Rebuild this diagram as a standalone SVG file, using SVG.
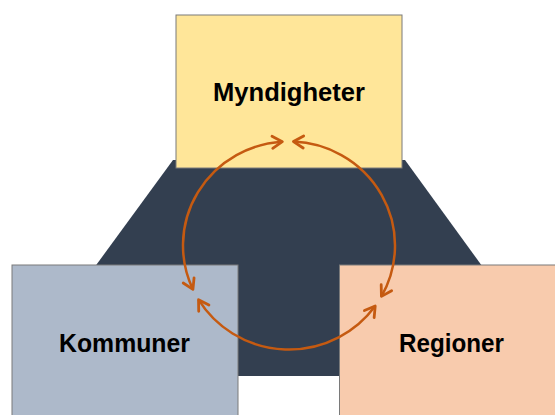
<svg xmlns="http://www.w3.org/2000/svg" width="555" height="415" viewBox="0 0 555 415">
  <style>
    .box { stroke: #7a7a7a; stroke-width: 1; }
    .lbl { font-family: "Liberation Sans", Arial, sans-serif; font-weight: bold; font-size: 25px; fill: #000; text-anchor: middle; }
    .arc { fill: none; stroke: #C55A11; stroke-width: 2.5; }
  </style>
  <defs>
    <marker id="ah" markerUnits="userSpaceOnUse" markerWidth="16" markerHeight="16" refX="0" refY="0" viewBox="-12 -8 14 16" orient="auto-start-reverse" overflow="visible">
      <path d="M-10,-6 L0,0 L-10,6" fill="none" stroke="#C55A11" stroke-width="2.8" stroke-linejoin="round" stroke-linecap="round"/>
    </marker>
  </defs>
  <rect width="555" height="415" fill="#ffffff"/>
  <g id="background">
    <polygon points="173,160 405,160 562,376 15,376" fill="#333F50"/>
  </g>
  <g id="myndigheter">
    <rect class="box" x="176" y="15" width="226" height="153" fill="#FFE699"/>
    <text class="lbl" x="289" y="101" textLength="152" lengthAdjust="spacingAndGlyphs">Myndigheter</text>
  </g>
  <g id="kommuner">
    <rect class="box" x="12" y="265" width="226" height="160" fill="#ADB9CA"/>
    <text class="lbl" x="124.5" y="352" textLength="131" lengthAdjust="spacingAndGlyphs">Kommuner</text>
  </g>
  <g id="regioner">
    <rect class="box" x="339.5" y="265" width="230" height="160" fill="#F8CBAD"/>
    <text class="lbl" x="451.5" y="352" textLength="105" lengthAdjust="spacingAndGlyphs">Regioner</text>
  </g>
  <g id="connectors">
    <path class="arc" d="M192.93,289.45 A106,104 0 0 1 282.34,141.7" marker-start="url(#ah)" marker-end="url(#ah)"/>
    <path class="arc" d="M293.44,141.59 A106,104 0 0 1 381.44,296.4" marker-start="url(#ah)" marker-end="url(#ah)"/>
    <path class="arc" d="M375.19,306.04 A106,104 0 0 1 198.53,299.68" marker-start="url(#ah)" marker-end="url(#ah)"/>
  </g>
</svg>
